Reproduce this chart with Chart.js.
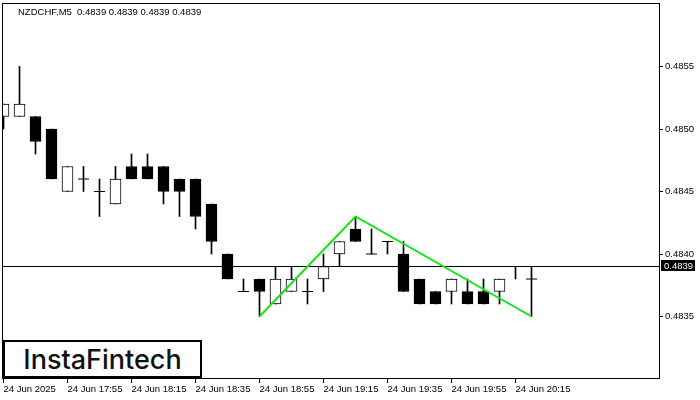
<!DOCTYPE html>
<html>
<head>
<meta charset="utf-8">
<script src="https://cdn.jsdelivr.net/npm/chart.js@4.4.1/dist/chart.umd.min.js"></script>
<style>
  html, body { margin: 0; padding: 0; background: #fff; }
  #wrap { position: relative; width: 700px; height: 400px; }
  #header {
    position: absolute; left: 18px; top: 6px;
    font: 9.5px 'Liberation Sans', Arial, sans-serif; color: #000;
    white-space: pre;
  }
  #logo {
    position: absolute; left: 3px; top: 340px; width: 195px; height: 34px;
    border: 2px solid #000; background: #fff;
    font: 500 27px Inter, sans-serif; color: #111;
    display: flex; align-items: center; justify-content: center;
  }
</style>
</head>
<body>
<div id="wrap">
  <canvas id="chart" width="700" height="400"></canvas>
  <div id="header">NZDCHF,M5  0.4839 0.4839 0.4839 0.4839</div>
  <div id="logo">InstaFintech</div>
</div>
<script>
// M5 candles, 24 Jun 2025 from 17:35
const opens  = [0.4851, 0.4851, 0.4851, 0.4850, 0.4845, 0.4846, 0.4845, 0.4844, 0.4847, 0.4847,
                0.4847, 0.4846, 0.4846, 0.4844, 0.4840, 0.4837, 0.4838, 0.4836, 0.4837, 0.4837,
                0.4838, 0.4840, 0.4842, 0.4840, 0.4841, 0.4840, 0.4838, 0.4837, 0.4837, 0.4837,
                0.4837, 0.4837, 0.4839, 0.4838, 0.4839];
const highs  = [0.4852, 0.4855, 0.4851, 0.4850, 0.4847, 0.4847, 0.4846, 0.4847, 0.4848, 0.4848,
                0.4847, 0.4846, 0.4846, 0.4844, 0.4840, 0.4838, 0.4838, 0.4839, 0.4839, 0.4838,
                0.4840, 0.4841, 0.4843, 0.4842, 0.4841, 0.4841, 0.4838, 0.4837, 0.4838, 0.4838,
                0.4838, 0.4838, 0.4839, 0.4839, 0.4839];
const lows   = [0.4850, 0.4851, 0.4848, 0.4846, 0.4845, 0.4845, 0.4843, 0.4844, 0.4846, 0.4846,
                0.4844, 0.4843, 0.4842, 0.4840, 0.4838, 0.4837, 0.4835, 0.4836, 0.4837, 0.4836,
                0.4837, 0.4839, 0.4841, 0.4840, 0.4840, 0.4837, 0.4836, 0.4836, 0.4836, 0.4836,
                0.4836, 0.4836, 0.4838, 0.4835, 0.4839];
const closes = [0.4852, 0.4852, 0.4849, 0.4846, 0.4847, 0.4846, 0.4845, 0.4846, 0.4846, 0.4846,
                0.4845, 0.4845, 0.4843, 0.4841, 0.4838, 0.4837, 0.4837, 0.4838, 0.4838, 0.4837,
                0.4839, 0.4841, 0.4841, 0.4840, 0.4841, 0.4837, 0.4836, 0.4836, 0.4838, 0.4836,
                0.4836, 0.4838, 0.4839, 0.4838, 0.4839];

const timeTickIndex = [0, 4, 8, 12, 16, 20, 24, 28, 32];
const timeTickLabels = ['24 Jun 2025', '24 Jun 17:55', '24 Jun 18:15', '24 Jun 18:35', '24 Jun 18:55',
                        '24 Jun 19:15', '24 Jun 19:35', '24 Jun 19:55', '24 Jun 20:15'];
const priceTicks = [0.4835, 0.4840, 0.4845, 0.4850, 0.4855];

// double top pattern
const patternIndex = [16, 22, 33];
const patternPrice = [0.4835, 0.4843, 0.4835];

const lastPrice = 0.4839;

const font = { family: "'Liberation Sans', Arial, sans-serif", size: 9.5 };

const chartFrame = {
  id: 'chartFrame',
  afterDraw(chart) {
    const { ctx, chartArea: a, scales } = chart;
    ctx.save();
    ctx.strokeStyle = '#000';
    ctx.lineWidth = 1;
    ctx.strokeRect(a.left + 0.5, a.top + 0.5, a.right - a.left, a.bottom - a.top);
    // current price box on the price axis
    const y = Math.round(scales.y.getPixelForValue(lastPrice));
    ctx.fillStyle = '#000';
    ctx.fillRect(a.right + 2, y - 6, 34, 11);
    ctx.fillStyle = '#fff';
    ctx.font = `${font.size}px ${font.family}`;
    ctx.textBaseline = 'middle';
    ctx.fillText(lastPrice.toFixed(4), a.right + 5, y);
    ctx.restore();
  }
};

// open == close candles get a flat tick instead of a body
const dojis = opens.map((o, i) => (o === closes[i] ? { x: i, y: o } : null)).filter(Boolean);

new Chart(document.getElementById('chart'), {
  type: 'bar',
  data: {
    datasets: [
      {
        type: 'line',
        data: patternIndex.map((x, i) => ({ x, y: patternPrice[i] })),
        borderColor: '#14e614',
        borderWidth: 2,
        pointRadius: 0,
        order: 0,
      },
      {
        type: 'line',
        data: dojis,
        showLine: false,
        pointStyle: 'line',
        pointRadius: 5.5,
        pointHoverRadius: 5.5,
        pointBorderColor: '#000',
        pointBorderWidth: 1,
        order: 1,
      },
      {
        data: opens.map((o, i) => ({ x: i, y: [o, closes[i]] })),
        backgroundColor: opens.map((o, i) => closes[i] > o ? '#fff' : '#000'),
        borderColor: '#000',
        borderWidth: 1,
        borderSkipped: false,
        barThickness: 11,
        grouped: false,
        order: 1,
      },
      {
        data: lows.map((l, i) => ({ x: i, y: [l, highs[i]] })),
        backgroundColor: '#000',
        barThickness: 1,
        grouped: false,
        order: 2,
      },
      {
        type: 'line',
        data: [{ x: -1, y: lastPrice }, { x: 45, y: lastPrice }],
        borderColor: '#000',
        borderWidth: 1,
        pointRadius: 0,
        order: 3,
      },
    ],
  },
  options: {
    responsive: false,
    animation: false,
    layout: { autoPadding: false, padding: { left: 2, top: 3, right: 0, bottom: 0 } },
    plugins: { legend: { display: false }, tooltip: { enabled: false } },
    scales: {
      x: {
        type: 'linear',
        offset: false,
        min: -0.094,
        max: 40.969,
        afterBuildTicks: s => { s.ticks = timeTickIndex.map(v => ({ value: v })); },
        afterFit: s => { s.height = 22; s.paddingLeft = 0; s.paddingRight = 0; },
        grid: { drawOnChartArea: false, offset: false, color: '#000', tickLength: 5 },
        border: { display: false },
        ticks: {
          align: 'start', maxRotation: 0, autoSkip: false, padding: 1,
          color: '#000', font,
          callback: (v, i) => timeTickLabels[i],
        },
      },
      y: {
        position: 'right',
        min: 0.483008,
        max: 0.486008,
        afterBuildTicks: s => { s.ticks = priceTicks.map(v => ({ value: v })); },
        afterFit: s => { s.width = 41; s.paddingTop = 0; s.paddingBottom = 0; },
        grid: { drawOnChartArea: false, color: '#000', tickLength: 4 },
        border: { display: false },
        ticks: {
          padding: 2, color: '#000', font,
          callback: v => v.toFixed(4),
        },
      },
    },
  },
  plugins: [chartFrame],
});
</script>
</body>
</html>
